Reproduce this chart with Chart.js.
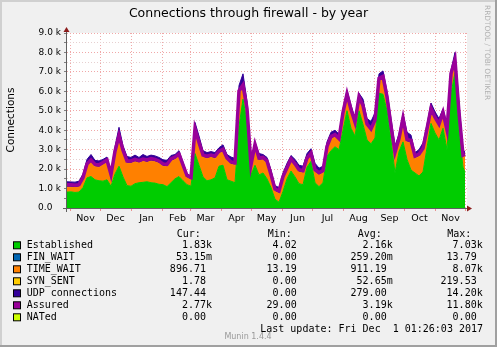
<!DOCTYPE html>
<html>
<head>
<meta charset="utf-8">
<script src="https://cdn.jsdelivr.net/npm/chart.js@4.4.0/dist/chart.umd.min.js"></script>
<style>
  html, body { margin: 0; padding: 0; background: #f0f0f0; }
  canvas { display: block; }
</style>
</head>
<body>
<canvas id="fwChart" width="497" height="347"></canvas>
<script>
// month boundaries, in days since 1 Nov 2016
const monthStarts = [0, 30, 61, 92, 120, 151, 181, 212, 242, 273, 304, 334, 365, 395]
const monthLabels = ['Nov', 'Dec', 'Jan', 'Feb', 'Mar', 'Apr', 'May', 'Jun', 'Jul', 'Aug', 'Sep', 'Oct', 'Nov', '']

// one sample every 4 days from 29 Oct 2016, last one on 1 Dec 2017
const days = Array.from({ length: 100 }, (_, i) => -3 + i * 4).concat([395])

const established = [
  820, 830, 800, 820, 1050, 1550, 1620, 1450, 1400, 1380,
  1450, 1120, 1750, 2150, 1600, 1150, 1120, 1250, 1300, 1320,
  1350, 1300, 1280, 1220, 1200, 1100, 1300, 1500, 1620, 1400,
  1200, 1120, 2800, 2200, 1600, 1400, 1450, 1550, 2150, 2200,
  1450, 1380, 1300, 4200, 5600, 4450, 1700, 2200, 1700, 1800,
  1500, 1050, 450, 300, 850, 1500, 1900, 1600, 1250, 1200,
  2100, 2400, 1300, 1100, 1300, 2650, 2950, 3150, 3000, 4000,
  5000, 4100, 3700, 5000, 4300, 3500, 3300, 3600, 5900, 5850,
  5000, 3500, 1800, 2900, 3400, 2500, 1950, 1800, 1650, 1850,
  3100, 4350, 3860, 3500, 4100, 3000, 5900, 6950, 4000, 2100,
  1830
]
const timeWait = [
  250, 240, 250, 260, 400, 600, 730, 670, 700, 840,
  900, 480, 1050, 1450, 1250, 1150, 1180, 1130, 1020, 1080,
  1000, 1120, 1100, 1080, 950, 1020, 1100, 1000, 1030, 700,
  350, 330, 1150, 1050, 1000, 1150, 1150, 1000, 650, 700,
  1000, 870, 900, 1700, 600, 550, 400, 950, 750, 680,
  800, 550, 400, 450, 650, 450, 500, 550, 600, 600,
  350, 300, 550, 600, 500, 400, 600, 500, 450, 800,
  750, 850, 600, 600, 850, 700, 650, 800, 650, 800,
  600, 600, 950, 550, 1100, 900, 1400, 750, 1000, 1100,
  850, 650, 690, 700, 700, 900, 900, 550, 800, 500,
  897
]
const udp = [
  280, 270, 280, 300, 300, 350, 400, 330, 320, 280,
  270, 250, 350, 550, 350, 350, 300, 340, 280, 350,
  300, 300, 300, 300, 330, 330, 300, 250, 300, 250,
  200, 200, 450, 450, 350, 300, 300, 300, 300, 350,
  300, 370, 350, 400, 700, 500, 300, 250, 350, 270,
  300, 350, 300, 300, 300, 350, 300, 350, 350, 350,
  350, 350, 450, 350, 350, 350, 350, 350, 350, 300,
  300, 350, 300, 300, 450, 400, 500, 500, 350, 400,
  400, 500, 450, 350, 350, 500, 400, 300, 350, 400,
  350, 400, 400, 400, 300, 400, 300, 500, 600, 400,
  147
]
const assured = [
  1190, 1190, 1170, 1200, 1570, 2270, 2470, 2240, 2220, 2340,
  2470, 1720, 2920, 3720, 2970, 2420, 2420, 2500, 2440, 2520,
  2470, 2540, 2500, 2420, 2270, 2240, 2520, 2620, 2770, 2220,
  1670, 1570, 4070, 3370, 2720, 2670, 2720, 2670, 2920, 3020,
  2570, 2370, 2320, 6020, 6320, 5120, 2220, 3270, 2570, 2600,
  2420, 1720, 970, 870, 1620, 2070, 2520, 2270, 1970, 1920,
  2570, 2820, 1970, 1820, 1920, 3170, 3670, 3770, 3570, 4920,
  5870, 5070, 4420, 5720, 5270, 4320, 4070, 4520, 6670, 6770,
  5720, 4220, 2870, 3570, 4620, 3520, 3470, 2670, 2770, 3070,
  4070, 5120, 4670, 4320, 4920, 4020, 6920, 7620, 4920, 2720,
  2770
]

// legend table
const seriesNames = ['Established', 'FIN_WAIT', 'TIME_WAIT', 'SYN_SENT', 'UDP connections', 'Assured', 'NATed']
const seriesColors = ['#00cc00', '#0066b3', '#ff8000', '#ffcc00', '#330099', '#990099', '#ccff00']
const curValues = ['1.83k', '53.15m', '896.71', '1.78', '147.44', '2.77k', '0.00']
const minValues = ['4.02', '0.00', '13.19', '0.00', '0.00', '29.00', '0.00']
const avgValues = ['2.16k', '259.20m', '911.19', '52.65m', '279.00', '3.19k', '0.00']
const maxValues = ['7.03k', '13.79', '8.07k', '219.53', '14.20k', '11.80k', '0.00']

const sans = '"DejaVu Sans", sans-serif'
const mono = '"DejaVu Sans Mono", monospace'

const withUnit = v => /[a-z]$/i.test(v) ? v : v + ' '

const muninFrame = {
  id: 'muninFrame',
  beforeDraw (chart) {
    const { ctx, chartArea: a } = chart
    ctx.save()
    ctx.fillStyle = '#f0f0f0'
    ctx.fillRect(0, 0, chart.width, chart.height)
    ctx.fillStyle = '#ffffff'
    ctx.fillRect(a.left, a.top, a.right - a.left, a.bottom - a.top)
    ctx.restore()
  },
  afterDraw (chart) {
    const { ctx, chartArea: a } = chart
    ctx.save()

    // outer frame
    ctx.fillStyle = '#d0d0d0'
    ctx.fillRect(0, 0, chart.width, 2)
    ctx.fillRect(0, 0, 2, chart.height)
    ctx.fillStyle = '#a0a0a0'
    ctx.fillRect(0, chart.height - 2, chart.width, 2)
    ctx.fillRect(chart.width - 2, 0, 2, chart.height)

    // axes with arrows
    ctx.strokeStyle = '#606060'
    ctx.lineWidth = 1
    ctx.beginPath()
    ctx.moveTo(a.left - 4, a.bottom + 0.5)
    ctx.lineTo(a.right + 2, a.bottom + 0.5)
    ctx.moveTo(a.left - 0.5, a.bottom + 4)
    ctx.lineTo(a.left - 0.5, a.top - 3)
    ctx.stroke()
    ctx.fillStyle = '#8b1c1c'
    ctx.beginPath()
    ctx.moveTo(a.right, a.bottom - 2.5)
    ctx.lineTo(a.right + 5, a.bottom + 0.5)
    ctx.lineTo(a.right, a.bottom + 3.5)
    ctx.fill()
    ctx.beginPath()
    ctx.moveTo(a.left - 3.5, a.top - 1)
    ctx.lineTo(a.left - 0.5, a.top - 6)
    ctx.lineTo(a.left + 2.5, a.top - 1)
    ctx.fill()

    // title
    ctx.fillStyle = '#000'
    ctx.textBaseline = 'middle'
    ctx.textAlign = 'center'
    ctx.font = '12.5px ' + sans
    ctx.fillText('Connections through firewall - by year', chart.width / 2, 13.5)

    // vertical axis title
    ctx.save()
    ctx.translate(11, 120)
    ctx.rotate(-Math.PI / 2)
    ctx.font = '10.5px ' + sans
    ctx.fillText('Connections', 0, 0)
    ctx.restore()

    // side credit
    ctx.save()
    ctx.translate(487, 5)
    ctx.rotate(Math.PI / 2)
    ctx.textAlign = 'left'
    ctx.fillStyle = '#b0b0b0'
    ctx.font = '7.4px ' + sans
    ctx.fillText('RRDTOOL / TOBI OETIKER', 0, 0)
    ctx.restore()

    // legend table
    ctx.font = '10px ' + mono
    ctx.fillStyle = '#000'
    ctx.textAlign = 'left'
    ctx.fillText('Cur:', 176.7, 234)
    ctx.fillText('Min:', 267.7, 234)
    ctx.fillText('Avg:', 357.7, 234)
    ctx.fillText('Max:', 447.3, 234)
    seriesNames.forEach((name, i) => {
      const y = 245.3 + i * 12
      ctx.fillStyle = seriesColors[i]
      ctx.fillRect(13.5, y - 3.5, 7, 7)
      ctx.strokeStyle = '#000'
      ctx.strokeRect(13.5, y - 3.5, 7, 7)
      ctx.fillStyle = '#000'
      ctx.textAlign = 'left'
      ctx.fillText(name, 26.7, y)
      ctx.textAlign = 'right'
      ctx.fillText(withUnit(curValues[i]), 212, y)
      ctx.fillText(withUnit(minValues[i]), 302.7, y)
      ctx.fillText(withUnit(avgValues[i]), 392.7, y)
      ctx.fillText(withUnit(maxValues[i]), 482.7, y)
    })
    ctx.fillText('Last update: Fri Dec  1 01:26:03 2017', 483, 329.3)

    ctx.textAlign = 'center'
    ctx.fillStyle = '#999999'
    ctx.font = '8px ' + sans
    ctx.fillText('Munin 1.4.4', 248, 336.5)

    ctx.restore()
  }
}

const area = (label, data, color, fill) => ({
  label,
  data,
  backgroundColor: color,
  borderColor: color,
  borderWidth: 1,
  pointRadius: 0,
  fill,
  order: 1,
  stack: 'conns'
})

const ctx = document.getElementById('fwChart')
const fwChart = new Chart(ctx, {
  type: 'line',
  data: {
    labels: days,
    datasets: [
      area('Established', established, '#00cc00', 'origin'),
      area('TIME_WAIT', timeWait, '#ff8000', '-1'),
      area('UDP connections', udp, '#330099', '-1'),
      {
        label: 'Assured',
        data: assured,
        borderColor: '#990099',
        borderWidth: 3.5,
        pointRadius: 0,
        fill: false,
        order: 0,
        stack: 'assured'
      }
    ]
  },
  options: {
    responsive: false,
    animation: false,
    events: [],
    layout: { padding: { top: 33, right: 30, left: 0, bottom: 0 } },
    plugins: {
      legend: { display: false },
      tooltip: { enabled: false },
      title: { display: false }
    },
    scales: {
      x: {
        type: 'linear',
        min: -3,
        max: 397,
        afterFit: scale => { scale.height = 139 },
        afterBuildTicks: scale => {
          scale.ticks = monthStarts.map(v => ({ value: v }))
        },
        grid: {
          color: '#f0a8a8',
          tickColor: '#e89090',
          tickLength: 3,
          lineWidth: 1
        },
        border: { display: false, dash: [1, 2] },
        ticks: {
          autoSkip: false,
          maxRotation: 0,
          labelOffset: 15.5,
          padding: 2,
          color: '#000',
          font: { family: 'DejaVu Sans', size: 9.5 },
          callback: (value, index) => monthLabels[index]
        }
      },
      y: {
        stacked: true,
        min: 0,
        max: 9000,
        afterFit: scale => { scale.width = 67 },
        grid: {
          color: c => c.tick.value % 1000 === 0 ? '#f0a8a8' : '#e6d0d0',
          tickColor: '#808080',
          tickLength: 3,
          lineWidth: 1
        },
        border: { display: false, dash: [1, 2] },
        ticks: {
          stepSize: 500,
          autoSkip: false,
          padding: 3,
          color: '#000',
          font: { family: 'DejaVu Sans', size: 9 },
          callback: v => {
            if (v % 1000 !== 0) return ''
            return v === 0 ? '0.0   ' : (v / 1000).toFixed(1) + ' k'
          }
        }
      }
    }
  },
  plugins: [muninFrame]
})
</script>
</body>
</html>
